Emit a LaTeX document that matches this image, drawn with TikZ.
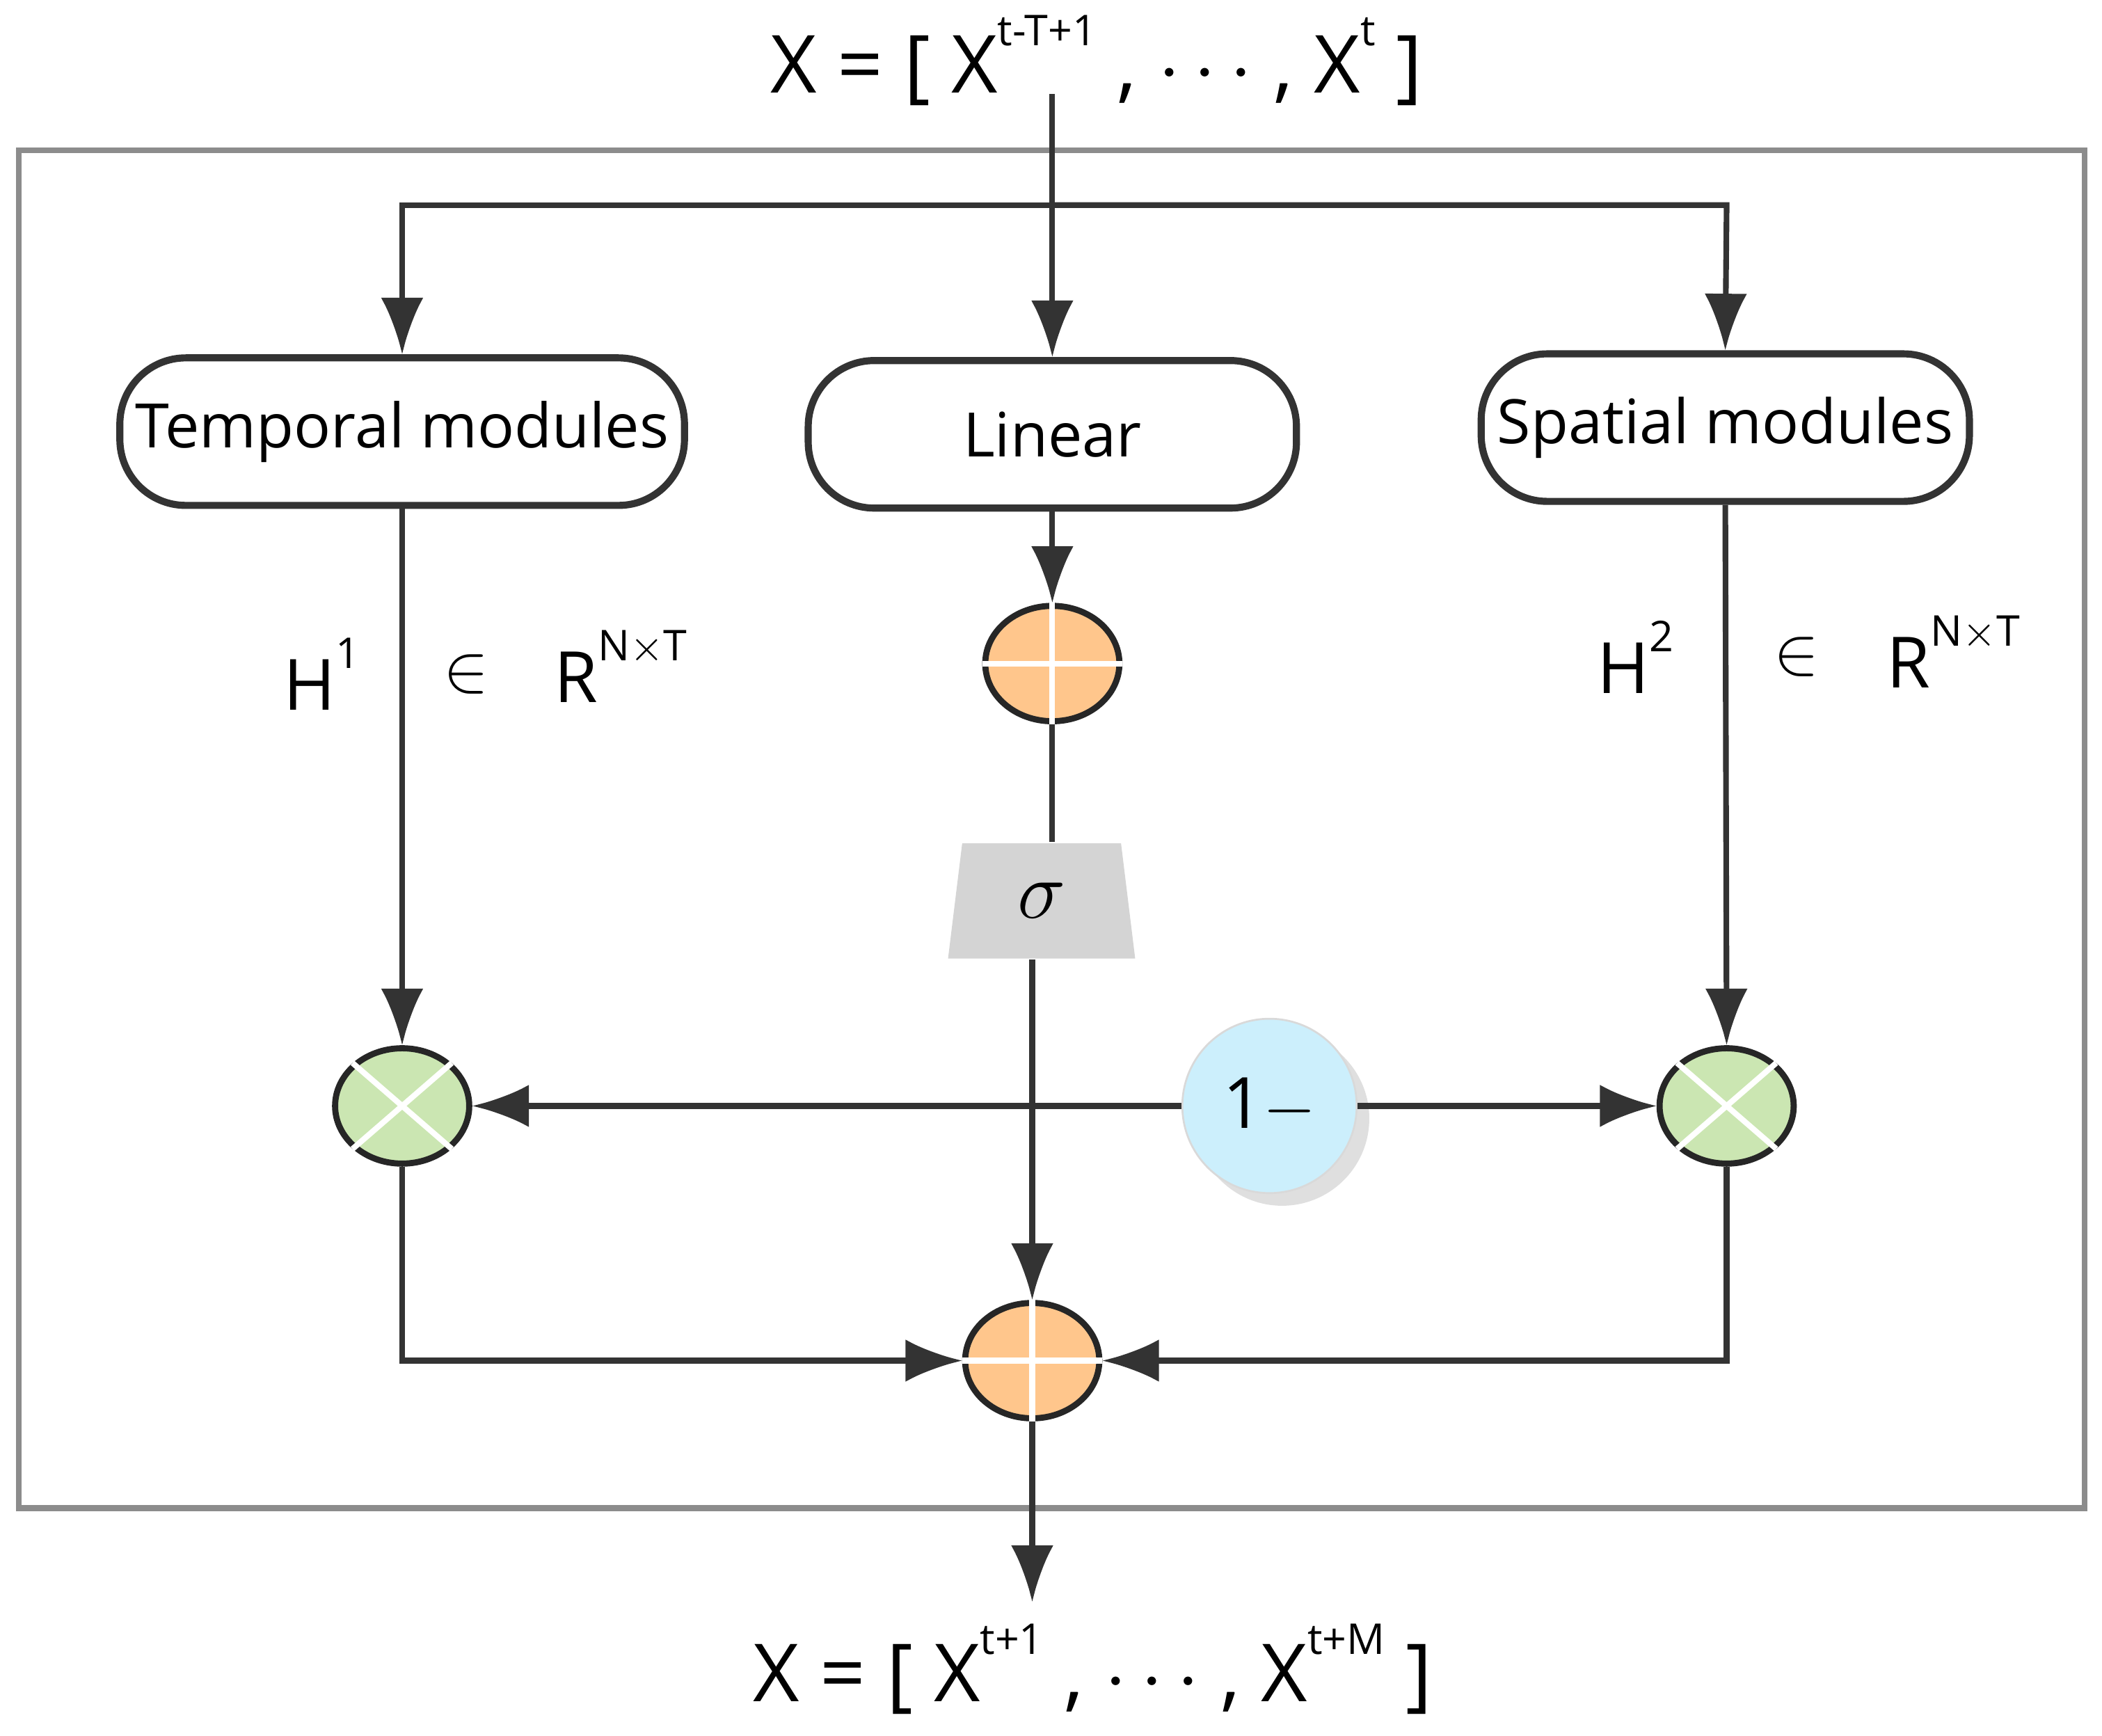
\documentclass[tikz,border=0pt]{standalone}
\usepackage{fontspec}
\setmainfont{Open Sans}
\usetikzlibrary{arrows.meta,shadows,shapes.geometric}
\newcommand{\myup}[1]{\raisebox{1.1ex}{\fontsize{9}{9}\selectfont #1}}
\begin{document}
\begin{tikzpicture}[x=0.01cm,y=-0.01cm,
  line/.style={draw=black!80,line width=1.2pt},
  arr/.style={line,-{Latex[length=12pt,width=9pt]}},
  box/.style={draw=black!80,line width=1.5pt,rounded corners=14pt,minimum width=3.64cm,minimum height=1.1cm,fill=white,font=\fontsize{13}{15}\selectfont},
  orb/.style={ellipse,draw=black!85,line width=1.3pt,minimum width=1cm,minimum height=0.86cm,inner sep=0pt},
  big/.style={font=\fontsize{17}{20}\selectfont},
  lab/.style={font=\fontsize{15}{18}\selectfont}]
\useasboundingbox (0,0) rectangle (1568,1295);
\draw[black!45,line width=1.2pt] (14,112) rectangle (1555,1125);
\node[big] (top) at (818,45) {X = [ X\myup{t-T+1} , $\cdots$ , X\myup{t} ]};
\node[big] (bot) at (815,1245) {X = [ X\myup{t+1} , $\cdots$ , X\myup{t+M} ]};
\node[box] (tm) at (300,322) {Temporal modules};
\node[box] (li) at (785,324) {Linear};
\node[box] (sm) at (1287,319) {Spatial modules};
\coordinate (src) at (785,70);
\coordinate (bl) at (300,153);
\coordinate (br) at (1288,153);
\node[orb,fill=orange!45!white] (o1) at (785,495) {};
\draw[white,line width=1.2pt] (o1.north)--(o1.south) (o1.west)--(o1.east);
\node[trapezium,trapezium left angle=83,trapezium right angle=83,fill=black!17,minimum width=1.4cm,minimum height=0.8cm,inner sep=0pt,font=\fontsize{18}{18}\selectfont] (sg) at (777,672) {$\sigma$};
\node[orb,fill=orange!45!white] (o2) at (770,1015) {};
\draw[white,line width=1.2pt] (o2.north)--(o2.south) (o2.west)--(o2.east);
\node[orb,fill=green!35!olive!30!white] (g1) at (300,825) {};
\node[orb,fill=green!35!olive!30!white] (g2) at (1288,825) {};
\foreach \g in {g1,g2}{\draw[white,line width=1.2pt] (\g.north west)--(\g.south east) (\g.north east)--(\g.south west);}
\node[circle,draw=black!15,fill=cyan!20,minimum size=1.3cm,drop shadow={opacity=0.25},font=\fontsize{15}{18}\selectfont] (om) at (947,825) {1$-$};
\draw[arr] (src)--(li.north);
\draw[arr] (785,153)-|(bl)--(tm.north);
\draw[arr] (785,153)-|(br)--(sm.north);
\draw[arr] (li.south)--(o1.north);
\draw[line] (o1.south)--(sg.north-|o1);
\draw[arr] (sg.south-|o2)--(o2.north);
\draw[arr] (tm.south)--(g1.north);
\draw[arr] (sm.south)--(g2.north);
\draw[arr] (om.west)--(g1.east);
\draw[arr] (om.east)--(g2.west);
\draw[arr] (g1.south)|-(o2.west);
\draw[arr] (g2.south)|-(o2.east);
\draw[arr] (o2.south)--(770,1195);
\node[lab] (h1) at (240,503) {H\myup{1}};
\node[lab] (e1) at (348,503) {$\in$};
\node[lab] (r1) at (463,497) {R\myup{N$\times$T}};
\node[lab] (h2) at (1220,490) {H\myup{2}};
\node[lab] (e2) at (1340,490) {$\in$};
\node[lab] (r2) at (1457,486) {R\myup{N$\times$T}};
\end{tikzpicture}
\end{document}
